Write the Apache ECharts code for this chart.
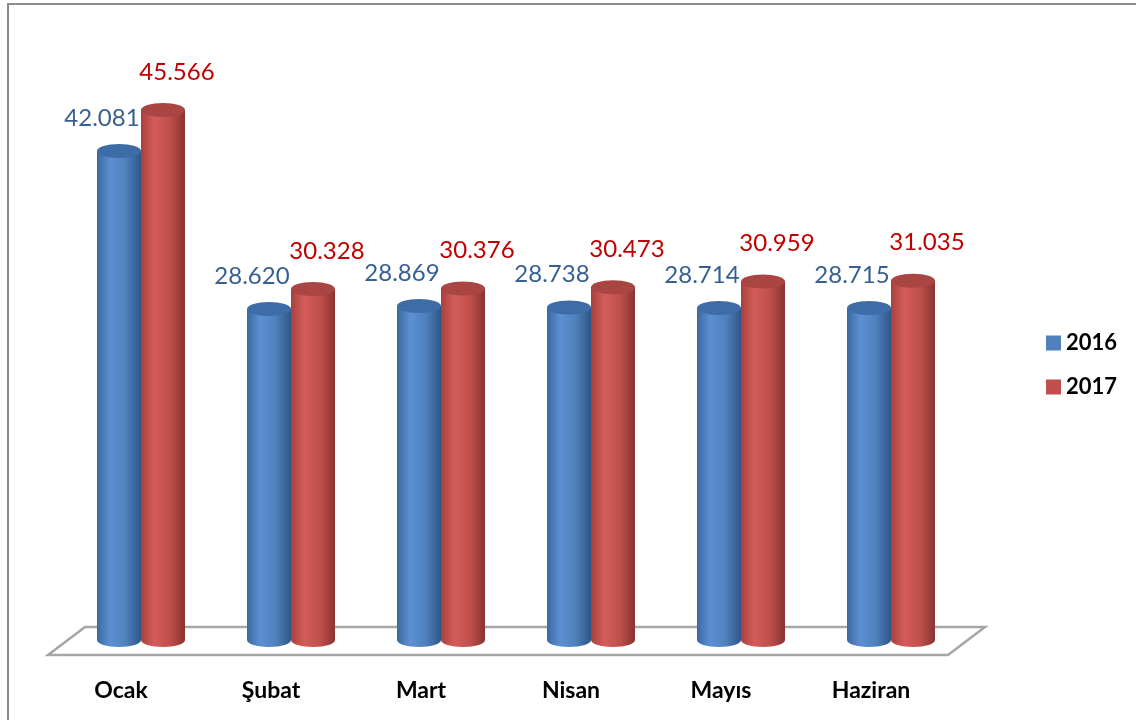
<!DOCTYPE html>
<html>
<head>
<meta charset="utf-8">
<script src="https://cdn.jsdelivr.net/npm/echarts@6/dist/echarts.min.js"></script>
<style>
  html, body { margin: 0; padding: 0; background: #fff; }
  #chart { width: 1136px; height: 720px; }
</style>
</head>
<body>
<div id="chart"></div>
<script>
// chart data
const categories = ["Ocak", "Şubat", "Mart", "Nisan", "Mayıs", "Haziran"];
const values2016 = [42081, 28620, 28869, 28738, 28714, 28715];
const values2017 = [45566, 30328, 30376, 30473, 30959, 31035];

const FONT = "Lato, 'Open Sans', sans-serif";
const BAR_W = 44;
const RY = 7;

// "42081" -> "42.081"
const fmt = (v) => (v / 1000).toFixed(3);

// cylinder drawing
const makeCylinder = (side, c, labelColor, ldx, ldy) => {
  return (params, api) => {
    const cat = api.value(0);
    const val = api.value(1);
    const top = api.coord([cat, val]);
    const base = api.coord([cat, 0]);
    const cx = top[0] + side * BAR_W / 2;
    const x0 = cx - BAR_W / 2;
    const yBot = base[1] - 5;
    const bodyFill = {
      type: "linear", x: 0, y: 0, x2: 1, y2: 0,
      colorStops: [
        { offset: 0, color: c.dark },
        { offset: 0.3, color: c.light },
        { offset: 0.65, color: c.mid },
        { offset: 1, color: c.edge },
      ],
    };
    return {
      type: "group",
      children: [
        { type: "ellipse", shape: { cx: cx, cy: yBot, rx: BAR_W / 2, ry: RY }, style: { fill: bodyFill } },
        { type: "rect", shape: { x: x0, y: top[1], width: BAR_W, height: yBot - top[1] }, style: { fill: bodyFill } },
        { type: "ellipse", shape: { cx: cx, cy: top[1], rx: BAR_W / 2, ry: RY }, style: { fill: c.top } },
        {
          type: "text",
          style: {
            text: fmt(val), x: cx + ldx, y: top[1] + ldy,
            fill: labelColor, font: "24px " + FONT,
            align: "center", verticalAlign: "middle",
          },
        },
      ],
    };
  };
};

const blue = { dark: "#3b68a2", light: "#5c90d2", mid: "#4f81bd", edge: "#2f5686", top: "#3e6ca6" };
const red = { dark: "#a8403d", light: "#d35c59", mid: "#c0504d", edge: "#8a3331", top: "#a94542" };

const chart = echarts.init(document.getElementById("chart"));

const option = {
  animation: false,
  backgroundColor: "#ffffff",
  graphic: [
    {
      type: "rect", z: 0, silent: true,
      shape: { x: 8, y: 4, width: 1140, height: 730 },
      style: { fill: null, stroke: "#8c8c8c", lineWidth: 2 },
    },
    {
      type: "polygon", z: 0, silent: true,
      shape: { points: [[48, 655], [85, 627], [985, 627], [948, 655]] },
      style: { fill: "#ffffff", stroke: "#a6a6a6", lineWidth: 2.5 },
    },
  ],
  legend: {
    orient: "vertical",
    left: 1041,
    top: 327,
    itemWidth: 15,
    itemHeight: 15,
    itemGap: 22,
    icon: "rect",
    data: ["2016", "2017"],
    textStyle: { fontFamily: FONT, fontSize: 22, fontWeight: "bold", color: "#000" },
  },
  grid: { left: 66, width: 900, top: 58, bottom: 75 },
  xAxis: {
    type: "category",
    data: categories,
    axisLine: { show: false },
    axisTick: { show: false },
    axisLabel: {
      interval: 0,
      margin: 34,
      padding: [0, 40, 0, 0],
      fontFamily: FONT,
      fontSize: 23,
      fontWeight: "bold",
      color: "#000",
    },
  },
  yAxis: {
    type: "value",
    min: 0,
    max: 50000,
    show: false,
    splitLine: { show: false },
  },
  series: [
    {
      name: "2016",
      type: "custom",
      z: 2,
      itemStyle: { color: "#4f81bd" },
      renderItem: makeCylinder(-1, blue, "#376092", -17, -33),
      encode: { x: 0, y: 1 },
      data: values2016.map((v, i) => [i, v]),
    },
    {
      name: "2017",
      type: "custom",
      z: 3,
      itemStyle: { color: "#c0504d" },
      renderItem: makeCylinder(1, red, "#c00000", 14, -38),
      encode: { x: 0, y: 1 },
      data: values2017.map((v, i) => [i, v]),
    },
  ],
};

chart.setOption(option);
window.addEventListener("resize", () => chart.resize());
</script>
</body>
</html>
